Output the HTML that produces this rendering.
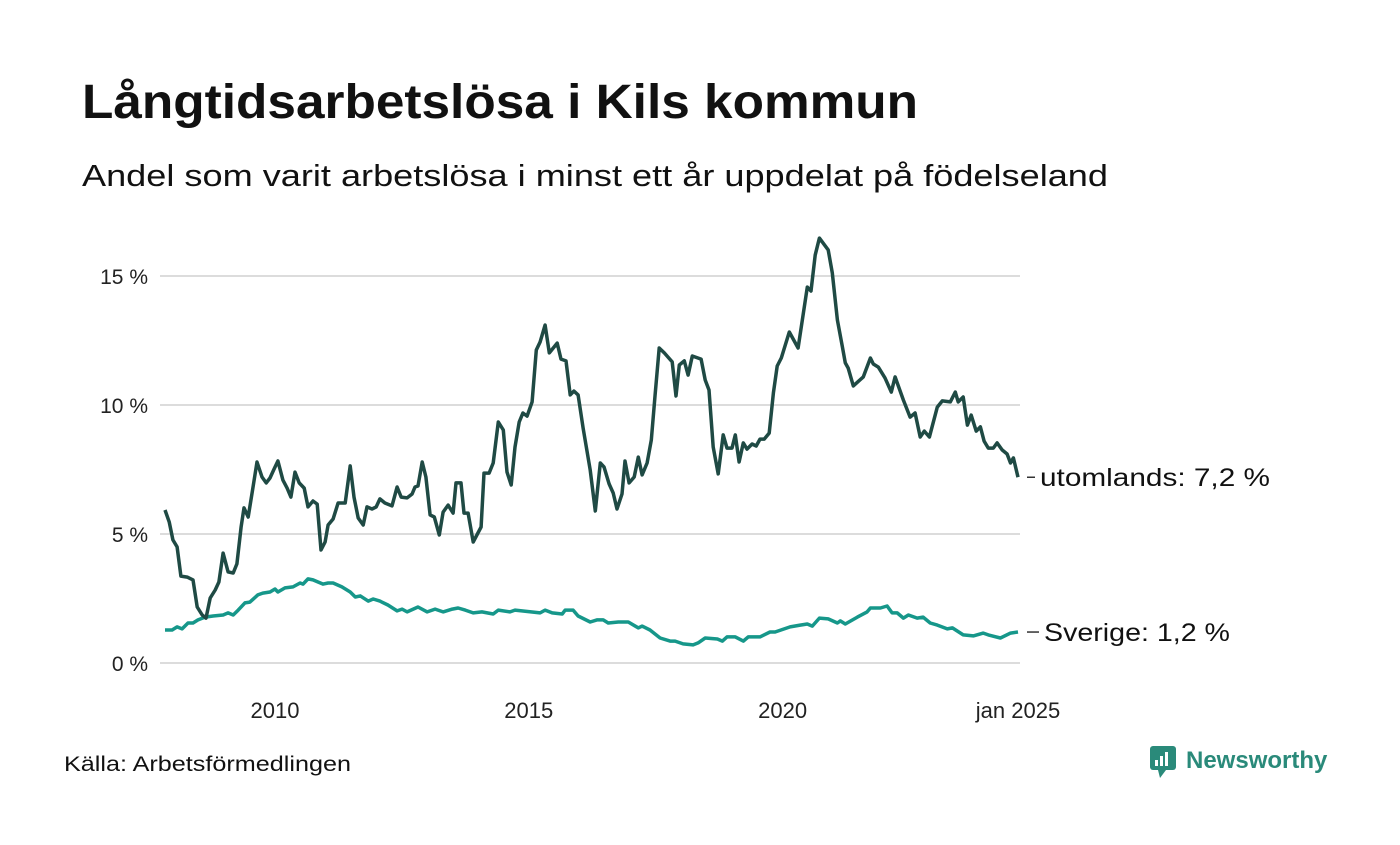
<!DOCTYPE html>
<html><head><meta charset="utf-8"><style>
body{margin:0;background:#fff;width:1400px;height:840px;overflow:hidden;font-family:"Liberation Sans","DejaVu Sans",sans-serif;}
</style></head><body>
<svg id="chart" width="1400" height="840" xmlns="http://www.w3.org/2000/svg">
<text x="82" y="118" font-size="48" font-weight="bold" fill="#111" textLength="836" lengthAdjust="spacingAndGlyphs">Långtidsarbetslösa i Kils kommun</text>
<text x="82" y="186" font-size="31" fill="#111" textLength="1026" lengthAdjust="spacingAndGlyphs">Andel som varit arbetslösa i minst ett år uppdelat på födelseland</text>
<g id="grid"></g><g id="series"></g><g id="labels"></g>
<text x="64" y="771" font-size="21" fill="#111" textLength="287" lengthAdjust="spacingAndGlyphs">Källa: Arbetsförmedlingen</text>
<g>
<rect x="1150" y="746" width="26" height="24" rx="3" fill="#2a8a7a"/>
<polygon points="1158,770 1166,770 1160,778" fill="#2a8a7a"/>
<rect x="1155" y="760" width="3" height="6" fill="#fff"/><rect x="1160" y="756" width="3" height="10" fill="#fff"/><rect x="1165" y="752" width="3" height="14" fill="#fff"/>
<text x="1186" y="768" font-size="24" font-weight="bold" fill="#2a8a7a">Newsworthy</text>
</g>
</svg>
<script>
const yTicks=[0,5,10,15];
const yTickLabels=["0 %","5 %","10 %","15 %"];
const xTickMonths=[26.3,87,147.7,204];
const xTickLabels=["2010","2015","2020","jan 2025"];
const utMonths=[0,1,1.9,2.9,3.8,5.3,6.7,7.7,8.9,9.8,10.8,12,12.9,13.9,15.1,16.3,17.2,18.2,18.9,19.9,21.1,22,23.2,24.2,25.1,26.1,27,28.2,29.2,30.1,31.1,32.1,33.3,34.2,35.4,36.4,37.3,38.3,39,40.2,41.4,43.1,44.3,45.2,46.2,47.4,48.3,49.5,50.5,51.4,52.6,54.3,55.5,56.5,57.9,59.1,59.8,60.5,61.5,62.4,63.4,64.4,65.6,66.5,67.7,68.9,69.6,70.8,71.5,72.5,73.7,75.6,76.3,77.5,78.5,79.7,80.9,81.8,82.8,83.7,84.7,85.6,86.6,87.8,88.8,89.7,90.9,91.9,93.8,94.7,95.9,96.9,97.8,98.8,100,101.7,102.9,104.1,105,106.2,107.2,108.1,109.3,110,111,112.2,113.2,114.1,115.3,116.3,117.2,118.2,119.4,121.3,122.2,123,124.2,125.1,126.1,128.2,129.2,130.1,131.1,132.3,133.5,134.4,135.6,136.4,137.3,138.3,139.2,140.4,141.4,142.3,143.3,144.5,145.5,146.4,147.4,149.3,151.4,153.6,154.5,155.5,156.5,158.6,159.6,160.8,162,162.7,163.4,164.6,167,168.7,169.4,170.6,172.2,173.7,174.6,176.6,178.2,179.4,180.6,181.6,182.8,184.7,185.9,187.8,189,189.7,190.9,191.9,192.8,194,195,195.9,196.9,198.1,199,200.2,201.4,202.2,202.9,204];
const utValues=[5.93,5.47,4.77,4.5,3.37,3.33,3.22,2.17,1.86,1.74,2.52,2.83,3.14,4.26,3.53,3.49,3.84,5.27,6.01,5.66,6.86,7.79,7.21,6.98,7.17,7.52,7.83,7.09,6.78,6.43,7.4,6.98,6.78,6.05,6.28,6.16,4.38,4.69,5.35,5.58,6.2,6.2,7.64,6.43,5.62,5.35,6.05,5.97,6.05,6.36,6.2,6.09,6.82,6.43,6.4,6.55,6.82,6.86,7.79,7.21,5.74,5.66,4.96,5.85,6.12,5.81,6.98,6.98,5.81,5.81,4.69,5.27,7.36,7.36,7.75,9.34,9.03,7.4,6.9,8.37,9.34,9.69,9.57,10.12,12.13,12.44,13.1,12.02,12.4,11.78,11.71,10.39,10.54,10.39,9.11,7.48,5.89,7.75,7.6,6.94,6.59,5.97,6.55,7.83,6.98,7.21,7.98,7.29,7.75,8.64,10.39,12.21,12.02,11.67,10.35,11.55,11.71,11.16,11.9,11.78,10.97,10.58,8.37,7.33,8.84,8.33,8.33,8.84,7.79,8.53,8.29,8.49,8.41,8.68,8.68,8.91,10.47,11.51,11.82,12.83,12.21,14.57,14.42,15.81,16.47,16.01,15.12,13.29,12.25,11.63,11.43,10.74,11.09,11.82,11.59,11.47,11.05,10.5,11.09,10.19,9.53,9.69,8.76,8.99,8.76,9.92,10.16,10.12,10.5,10.12,10.31,9.22,9.61,8.99,9.15,8.6,8.33,8.33,8.53,8.26,8.1,7.75,7.95,7.2];
const seMonths=[0,1.7,2.9,4.1,5.5,6.7,7.9,9.6,11.5,13.9,15.1,16.3,17.5,19.1,20.3,22.2,23.4,25.1,26.3,27,28.7,30.6,32.3,33,34.2,35.4,36.6,37.8,39,40.2,42.3,44.3,45.5,46.7,48.6,49.8,51.4,53.3,55.5,56.7,57.9,60.5,62.7,64.6,66.5,68.7,70.1,71.8,73.7,75.8,78.5,79.7,82.5,83.7,89.7,90.9,92.6,95,95.7,97.6,98.8,101.7,103.3,104.8,106,108.4,110.8,113.2,114.1,116,118.4,120.8,122,123.9,126.3,127.5,129.2,132.1,133.3,134.4,136.4,138.3,139.5,142.3,144.7,145.9,149.5,151.9,153.6,154.8,156.5,158.6,160.8,161.5,162.7,165.6,167.9,168.7,171.1,172.7,173.9,175.1,176.6,177.8,179.9,181.3,183,184.7,187.1,188.3,190.9,193.3,195.7,196.9,199.8,202.2,204];
const seValues=[1.28,1.28,1.4,1.32,1.55,1.55,1.67,1.78,1.82,1.86,1.94,1.86,2.05,2.33,2.36,2.64,2.71,2.75,2.87,2.75,2.91,2.95,3.1,3.06,3.26,3.22,3.14,3.06,3.1,3.1,2.95,2.75,2.56,2.6,2.4,2.48,2.4,2.25,2.02,2.09,1.98,2.17,1.98,2.09,1.98,2.09,2.13,2.05,1.94,1.98,1.9,2.05,1.98,2.05,1.94,2.05,1.94,1.9,2.05,2.05,1.82,1.59,1.67,1.67,1.55,1.59,1.59,1.36,1.43,1.28,0.97,0.85,0.85,0.74,0.7,0.78,0.97,0.93,0.85,1.01,1.01,0.85,1.01,1.01,1.2,1.2,1.4,1.47,1.51,1.43,1.74,1.71,1.55,1.63,1.51,1.78,1.98,2.13,2.13,2.21,1.94,1.94,1.74,1.86,1.74,1.78,1.55,1.47,1.32,1.36,1.09,1.05,1.16,1.09,0.97,1.16,1.2];
const NS="http://www.w3.org/2000/svg";
const xS=m=>165+m*(1018-165)/204;
const yS=v=>663-v*25.8;
function mk(tag,attrs,parent){const e=document.createElementNS(NS,tag);for(const k in attrs)e.setAttribute(k,attrs[k]);parent.appendChild(e);return e;}
const grid=document.getElementById('grid');
yTicks.forEach((t,i)=>{
 const l=mk('line',{x1:160,x2:1020,y1:yS(t),y2:yS(t),stroke:'#dcdcdc','stroke-width':2},grid);
 
 
 const tx=mk('text',{x:148,y:yS(t)+8,'text-anchor':'end','font-size':21,fill:'#222'},grid);
 tx.textContent=yTickLabels[i];
 
 
});
xTickMonths.forEach((m,i)=>{
 const tx=mk('text',{x:xS(m),y:718,'text-anchor':'middle','font-size':22,fill:'#222'},grid);
 tx.textContent=xTickLabels[i];
 
 
});
const ser=document.getElementById('series');
function line(ms,vs,color,name){
 const d=ms.map((m,i)=>(i?'L':'M')+xS(m).toFixed(1)+','+yS(vs[i]).toFixed(1)).join('');
 const p=mk('path',{d:d,fill:'none',stroke:color,'stroke-width':3.5,'stroke-linejoin':'round'},ser);
 
 
}
line(seMonths,seValues,'#16978a','line-sverige');
line(utMonths,utValues,'#1f4a44','line-utomlands');
const lab=document.getElementById('labels');
function endLabel(v,text,name,x,w){
 const y=yS(v);
 mk('line',{x1:1027,x2:x-5,y1:y,y2:y,stroke:'#333','stroke-width':1.5},lab);
 const t=mk('text',{x:x,y:y+9,'font-size':25,fill:'#111',textLength:w,lengthAdjust:'spacingAndGlyphs'},lab);
 t.textContent=text;
 
 
}
endLabel(utValues[utValues.length-1],'utomlands: 7,2 %','label-utomlands',1040,230);
endLabel(seValues[seValues.length-1],'Sverige: 1,2 %','label-sverige',1044,186);
</script>
</body></html>
